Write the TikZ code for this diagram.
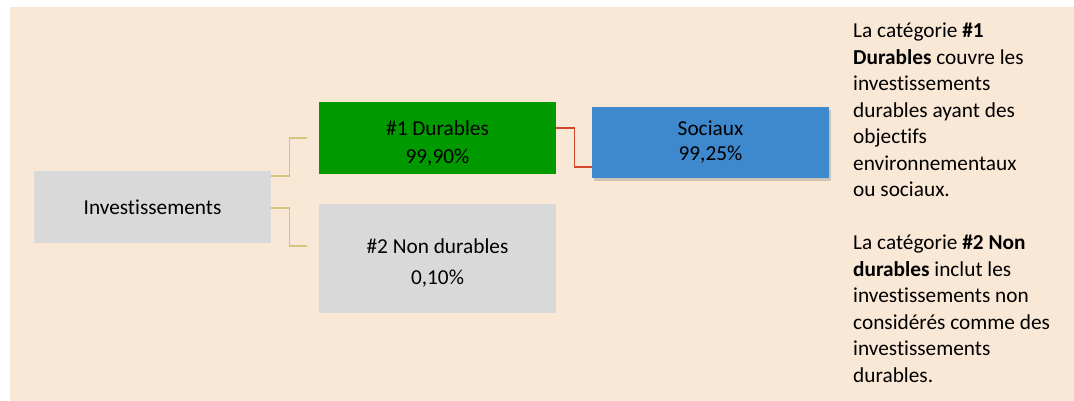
\documentclass[tikz,border=0pt]{standalone}
\usepackage{fontspec}
\setmainfont{Carlito}[Ligatures=CommonOff]
\usepackage{xcolor}
\usetikzlibrary{positioning, shadows}
\definecolor{peachbg}{RGB}{250, 232, 215}
\definecolor{boxgray}{RGB}{217, 217, 217}
\definecolor{durgreen}{RGB}{0, 153, 0}
\definecolor{socblue}{RGB}{62, 137, 205}
\definecolor{linktan}{RGB}{214, 197, 128}
\definecolor{linkred}{RGB}{212, 72, 42}

\begin{document}
\begin{tikzpicture}[
  x=1pt, y=-1pt,
  every node/.style={font=\fontsize{21.3}{27}\selectfont},
  catbox/.style={draw=none, fill=boxgray, minimum width=237pt, minimum height=72pt, align=center, inner sep=0pt},
  branch/.style={linktan, line width=1.2pt},
  redlink/.style={linkred, line width=1.2pt},
  note/.style={anchor=north west, align=left, inner sep=0pt, font=\fontsize{21.3}{26.5}\selectfont}
]

  % background
  \useasboundingbox (0,0) rectangle (1074,401);
  \fill[white] (0,0) rectangle (1074,401);
  \fill[peachbg] (10,7) rectangle (1074,401);

  \node[catbox] (inv) at (152.5,207) {Investissements};
  \node[catbox, fill=durgreen] (dur) at (437.5,138) {\rule{0pt}{25pt}\#1 Durables\\[1pt] 99,90\%};
  \node[catbox, minimum height=109pt] (nondur) at (437.5,258.5) {\rule{0pt}{23pt}\#2 Non durables\\[4pt] 0,10\%};
  \node[catbox, fill=socblue, minimum height=71pt,
        drop shadow={shadow xshift=2pt, shadow yshift=-3pt, opacity=0.35}] (soc) at (710.5,142.5) {Sociaux\\[-2pt] 99,25\%};

  \node[note] (txt) at (853,23) {La catégorie \textbf{\#1}\\
    \textbf{Durables} couvre les\\
    investissements\\
    durables ayant des\\
    objectifs\\
    environnementaux\\
    ou sociaux.\\[26.5pt]
    La catégorie \textbf{\#2 Non}\\
    \textbf{durables} inclut les\\
    investissements non\\
    considérés comme des\\
    investissements\\
    durables.};

  \draw[branch] ([yshift=31pt]inv.east) -- ++(18,0) |- ([xshift=-12pt]dur.west);
  \draw[branch] ([yshift=-1pt]inv.east) -- ++(18,0) |- ([xshift=-12pt, yshift=12.5pt]nondur.west);
  \draw[redlink] ([yshift=10pt]dur.east) -- ++(18,0) |- ([yshift=-24.5pt]soc.west);

\end{tikzpicture}
\end{document}
